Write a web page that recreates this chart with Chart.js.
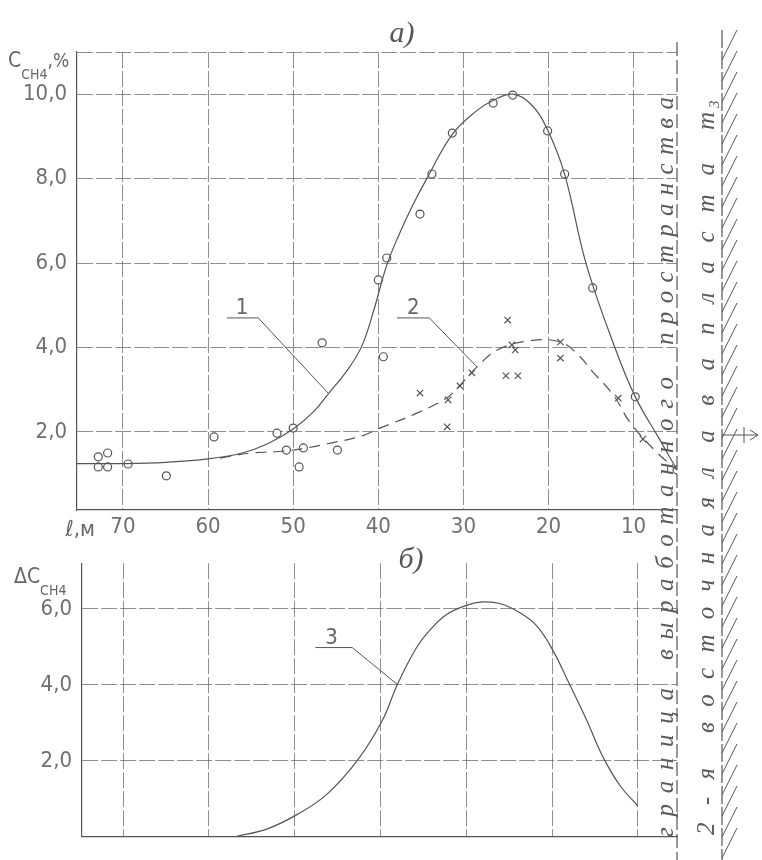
<!DOCTYPE html>
<html>
<head>
<meta charset="utf-8">
<script src="https://cdn.jsdelivr.net/npm/chart.js@4.4.0/dist/chart.umd.min.js"></script>
<style>
  html, body { margin: 0; padding: 0; background: #fff; }
  #wrap { position: relative; width: 762px; height: 860px; }
  #top { position: absolute; left: 0; top: 0; }
  #bot { position: absolute; left: 0; top: 540px; }
</style>
</head>
<body>
<div id="wrap">
  <canvas id="top" width="762" height="860"></canvas>
  <canvas id="bot" width="762" height="320"></canvas>
</div>
<script>
// distance from the face, m (axis runs 70 -> 10)
const xTicks = [70, 60, 50, 40, 30, 20, 10];
const yTicksA = [2, 4, 6, 8, 10];
const yTicksB = [2, 4, 6];

// curve 1: CH4 concentration (solid fit)
const curve1X = [75.4, 70, 65, 60, 56, 53, 50, 47.5, 45.8, 43.5, 41.9, 40.5, 39.0, 37.5, 36.0, 34.3, 31.3, 28.5, 26.5, 24.2, 22, 20.1, 18.1, 15.6, 12.2, 9.8, 7, 4.9];
const curve1Y = [1.25, 1.25, 1.28, 1.36, 1.5, 1.72, 2.07, 2.5, 2.92, 3.5, 4.05, 4.9, 5.95, 6.7, 7.35, 8.0, 9.05, 9.6, 9.85, 10.0, 9.75, 9.15, 8.1, 6.0, 4.0, 2.83, 1.84, 1.1];

// curve 2: dashed fit
const curve2X = [58.6, 55, 52, 49, 46, 42, 39.8, 35.4, 32, 30.6, 28.4, 26.0, 22.5, 18.6, 16.3, 14.8, 12.4, 10.4, 7.2, 4.9];
const curve2Y = [1.38, 1.5, 1.53, 1.6, 1.72, 1.9, 2.09, 2.45, 2.8, 3.06, 3.54, 3.94, 4.15, 4.13, 3.78, 3.42, 2.88, 2.22, 1.5, 1.1];

// measured points, circles
const circleX = [72.9, 71.8, 72.9, 71.8, 69.4, 64.9, 59.3, 51.9, 50.0, 50.8, 48.8, 49.3, 44.8, 46.6, 39.4, 39.0, 40.0, 35.1, 33.7, 31.3, 26.5, 24.2, 20.1, 18.1, 14.8, 9.8, 4.9];
const circleY = [1.41, 1.50, 1.17, 1.17, 1.24, 0.96, 1.88, 1.97, 2.09, 1.57, 1.62, 1.17, 1.57, 4.11, 3.78, 6.12, 5.6, 7.16, 8.11, 9.08, 9.79, 9.98, 9.13, 8.11, 5.41, 2.83, 1.10];

// measured points, crosses
const crossX = [35.1, 31.9, 31.8, 30.4, 29.0, 24.8, 24.3, 23.9, 25.0, 23.6, 18.6, 18.6, 11.8, 8.9];
const crossY = [2.92, 2.12, 2.76, 3.09, 3.40, 4.65, 4.06, 3.94, 3.33, 3.33, 4.13, 3.75, 2.80, 1.83];

// curve 3: delta CH4
const curve3X = [57.0, 53.2, 49.7, 46.3, 42.7, 39.8, 38, 35.8, 34.2, 32.3, 30, 28.1, 26.1, 23.8, 21.8, 19.9, 18.2, 16, 14.1, 12.1, 10];
const curve3Y = [0, 0.21, 0.59, 1.11, 2.01, 3.06, 4.03, 4.98, 5.45, 5.85, 6.09, 6.18, 6.14, 5.9, 5.55, 4.9, 4.12, 3.08, 2.11, 1.35, 0.81];

// curve numbers: label point, underline end, leader end (data units)
const notesTop = [
  { text: '1', at: [56.0, 5.01], under: [57.8, 54.1, 4.70], to: [45.9, 2.92] },
  { text: '2', at: [35.9, 5.01], under: [37.8, 34.0, 4.70], to: [28.4, 3.54] }
];
const notesBot = [
  { text: '3', at: [45.7, 5.31], under: [47.6, 43.3, 4.98], to: [38.0, 4.0] }
];

const ink = '#555';
const gridCol = 'rgba(95,95,95,0.7)';
const sansC = '"DejaVu Sans Condensed", "DejaVu Sans", sans-serif';
const tickFont = { family: sansC, size: 22 };
const fmt = v => v.toFixed(1).replace('.', ',');
const pts = (xs, ys) => xs.map((x, i) => ({ x: x, y: ys[i] }));

function drawNotes(chart, notes) {
  const ctx = chart.ctx, xs = chart.scales.x, ys = chart.scales.y;
  ctx.save();
  ctx.strokeStyle = ink;
  ctx.fillStyle = '#666';
  ctx.lineWidth = 1;
  ctx.font = '22px ' + sansC;
  ctx.textAlign = 'center';
  ctx.textBaseline = 'alphabetic';
  notes.forEach(n => {
    const yu = ys.getPixelForValue(n.under[2]);
    ctx.beginPath();
    ctx.moveTo(xs.getPixelForValue(n.under[0]), yu);
    ctx.lineTo(xs.getPixelForValue(n.under[1]), yu);
    ctx.lineTo(xs.getPixelForValue(n.to[0]), ys.getPixelForValue(n.to[1]));
    ctx.stroke();
    ctx.fillText(n.text, xs.getPixelForValue(n.at[0]), ys.getPixelForValue(n.at[1]) + 9);
  });
  ctx.restore();
}

function subTitle(ctx, x, y, main, sub, tail) {
  ctx.font = '21px ' + sansC;
  ctx.fillText(main, x, y);
  const w = ctx.measureText(main).width;
  ctx.font = '14px ' + sansC;
  ctx.fillText(sub, x + w, y + 12);
  if (tail) {
    const w2 = ctx.measureText(sub).width;
    ctx.font = '19px ' + sansC;
    ctx.fillText(tail, x + w + w2, y);
  }
}

function spacedWord(ctx, word, cx, y0, y1) {
  const chars = [...word];
  const ws = chars.map(c => ctx.measureText(c).width);
  const total = ws.reduce((a, b) => a + b, 0);
  const gap = chars.length > 1 ? ((y0 - y1) - total) / (chars.length - 1) : 0;
  ctx.save();
  ctx.translate(cx, y0);
  ctx.rotate(-Math.PI / 2);
  let p = 0;
  chars.forEach((c, i) => { ctx.fillText(c, p, 0); p += ws[i] + gap; });
  ctx.restore();
}

const words1 = [['граница', 837, 688], ['выработанного', 660, 377], ['пространства', 345, 97]];
const words2 = [['2-я', 835, 768], ['восточная', 733, 497], ['лава', 478, 358], ['пласта', 335, 163], ['m₃', 130, 100]];

const decorTop = {
  id: 'decorTop',
  afterDraw(chart) {
    const ctx = chart.ctx;
    ctx.save();
    ctx.strokeStyle = ink;
    ctx.fillStyle = ink;

    // boundary of worked-out space
    ctx.lineWidth = 1.2;
    ctx.setLineDash([14, 4]);
    ctx.beginPath(); ctx.moveTo(677, 42); ctx.lineTo(677, 860); ctx.stroke();

    // neighbouring longwall face, hatched
    ctx.setLineDash([18, 3]);
    ctx.beginPath(); ctx.moveTo(722, 30); ctx.lineTo(722, 860); ctx.stroke();
    ctx.setLineDash([]);
    ctx.lineWidth = 1;
    for (let y = 60; y < 875; y += 21) {
      ctx.beginPath(); ctx.moveTo(722, y); ctx.lineTo(737, y - 30); ctx.stroke();
    }
    // small arrow mark
    ctx.beginPath();
    ctx.moveTo(722, 435); ctx.lineTo(758, 435);
    ctx.moveTo(744, 427); ctx.lineTo(744, 443);
    ctx.moveTo(750, 430); ctx.lineTo(758, 435); ctx.lineTo(750, 440);
    ctx.stroke();

    // vertical captions
    ctx.fillStyle = '#5a5a5a';
    ctx.font = 'italic 25px "Liberation Serif", "DejaVu Serif", serif';
    ctx.textBaseline = 'middle';
    ctx.textAlign = 'left';
    words1.forEach(w => spacedWord(ctx, w[0], 666, w[1], w[2]));
    words2.forEach(w => spacedWord(ctx, w[0], 707, w[1], w[2]));

    // panel letter
    ctx.fillStyle = ink;
    ctx.textBaseline = 'alphabetic';
    ctx.textAlign = 'center';
    ctx.font = 'italic 30px "Liberation Serif", serif';
    ctx.fillText('a)', 402, 42);

    // axis captions
    ctx.fillStyle = '#666';
    ctx.textAlign = 'left';
    subTitle(ctx, 8, 67, 'C', 'CH4', ',%');
    ctx.font = '22px ' + sansC;
    ctx.textAlign = 'right';
    ctx.fillText('ℓ,м', 95, 536);
    ctx.restore();

    drawNotes(chart, notesTop);
  }
};

const decorBot = {
  id: 'decorBot',
  afterDraw(chart) {
    const ctx = chart.ctx;
    ctx.save();
    ctx.fillStyle = ink;
    ctx.textAlign = 'center';
    ctx.font = 'italic 30px "Liberation Serif", serif';
    ctx.fillText('б)', 411, 28);
    ctx.fillStyle = '#666';
    ctx.textAlign = 'left';
    subTitle(ctx, 14, 43, 'ΔC', 'CH4', '');
    ctx.restore();
    drawNotes(chart, notesBot);
  }
};

function axisX(min, max, h, labels) {
  return {
    type: 'linear', reverse: true, min: min, max: max,
    afterBuildTicks: s => { s.ticks = xTicks.map(v => ({ value: v })); },
    afterFit: s => { s.height = h; },
    grid: { color: gridCol, lineWidth: 1, drawTicks: false },
    border: { color: ink, width: 1.2, dash: [16, 3] },
    ticks: { display: labels, color: '#707070', font: tickFont, padding: 4, maxRotation: 0 }
  };
}

function axisY(min, max, w, list, top) {
  return {
    min: min, max: max,
    afterBuildTicks: s => { s.ticks = list.concat(top ? [max] : []).map(v => ({ value: v })); },
    afterFit: s => { s.width = w; },
    grid: { color: gridCol, lineWidth: 1, drawTicks: false },
    border: { color: ink, width: 1.2, dash: [16, 3] },
    ticks: { color: '#707070', font: tickFont, padding: 10, callback: v => (v === max ? '' : fmt(v)) }
  };
}

const lineStyle = { borderColor: ink, borderWidth: 1.2, pointRadius: 0, showLine: true, tension: 0.4, fill: false };

new Chart(document.getElementById('top'), {
  type: 'scatter',
  data: {
    datasets: [
      Object.assign({ data: pts(curve1X, curve1Y) }, lineStyle),
      Object.assign({ data: pts(curve2X, curve2Y), borderDash: [11, 7] }, lineStyle),
      { data: pts(circleX, circleY), pointStyle: 'circle', pointRadius: 4, pointBackgroundColor: '#fff', pointBorderColor: ink, pointBorderWidth: 1.2 },
      { data: pts(crossX, crossY), pointStyle: 'crossRot', pointRadius: 4.5, pointBorderColor: ink, pointBorderWidth: 1.2 }
    ]
  },
  options: {
    responsive: false, animation: false, events: [],
    layout: { padding: { left: 0, right: 85, top: 52, bottom: 300 } },
    plugins: { legend: { display: false }, tooltip: { enabled: false } },
    scales: { x: axisX(4.9, 75.4, 50, true), y: axisY(0.15, 11, 77, yTicksA, true) }
  },
  plugins: [decorTop]
});

new Chart(document.getElementById('bot'), {
  type: 'scatter',
  data: {
    datasets: [Object.assign({ data: pts(curve3X, curve3Y) }, lineStyle)]
  },
  options: {
    responsive: false, animation: false, events: [],
    layout: { padding: { left: 0, right: 85, top: 13, bottom: 0 } },
    plugins: { legend: { display: false }, tooltip: { enabled: false } },
    scales: { x: axisX(5.45, 74.8, 3, false), y: axisY(0, 7.2, 82, yTicksB, false) }
  },
  plugins: [decorBot]
});
</script>
</body>
</html>
